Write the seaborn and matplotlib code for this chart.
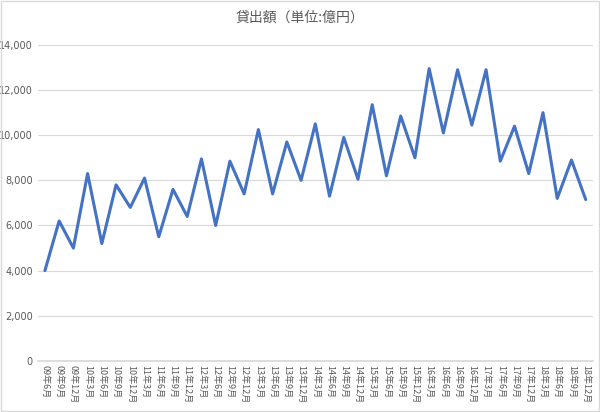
import matplotlib
matplotlib.use("Agg")
import matplotlib.pyplot as plt
import seaborn as sns
import pandas as pd

labels = []
for y in range(9, 19):
    for m in (3, 6, 9, 12):
        if y == 9 and m == 3:
            continue
        labels.append(f"{y:02d}年{m}月")
values = [4000, 6200, 5000, 8300, 5200, 7800, 6800, 8100, 5500, 7600, 6400, 8950,
          6000, 8850, 7400, 10250, 7400, 9700, 8000, 10500, 7300, 9900, 8050, 11350,
          8200, 10850, 9000, 12950, 10100, 12900, 10450, 12900, 8850, 10400, 8300,
          11000, 7200, 8900, 7150]

sns.set_theme(style="white")
plt.rcParams['font.family'] = ['Noto Sans CJK JP', 'DejaVu Sans']

df = pd.DataFrame({"x": range(len(values)), "v": values})
fig = plt.figure(figsize=(6.0, 4.12), dpi=100)
ax = fig.add_axes([0.063, 0.124, 0.925, 0.767])
sns.lineplot(data=df, x="x", y="v", ax=ax, color="#4472C4", linewidth=2.2)
ax.set_xlim(-0.5, len(values) - 0.5)
ax.set_ylim(0, 14000)
ax.set_yticks(range(0, 14001, 2000))
ax.set_yticklabels([f"{v:,}" for v in range(0, 14001, 2000)], fontsize=7, color="#595959", family="DejaVu Sans")
ax.set_xticks(range(len(values)))
ax.set_xticklabels(labels, rotation=-90, fontsize=6.5, color="#595959")
ax.tick_params(axis="x", length=0, pad=3)
ax.tick_params(axis="y", length=0)
ax.grid(axis="y", color="#D9D9D9", linewidth=0.8)
for s in ("top", "right", "left"):
    ax.spines[s].set_visible(False)
ax.spines["bottom"].set_color("#D9D9D9")
ax.set_xlabel("")
ax.set_ylabel("")
fig.suptitle("貸出額（単位:億円）", y=0.975, fontsize=10, color="#595959")
fig.patches.append(plt.Rectangle((0.002, 0.002), 0.996, 0.996, transform=fig.transFigure,
                                 fill=False, edgecolor="#D9D9D9", linewidth=1))
fig.savefig("out.png", dpi=100)
